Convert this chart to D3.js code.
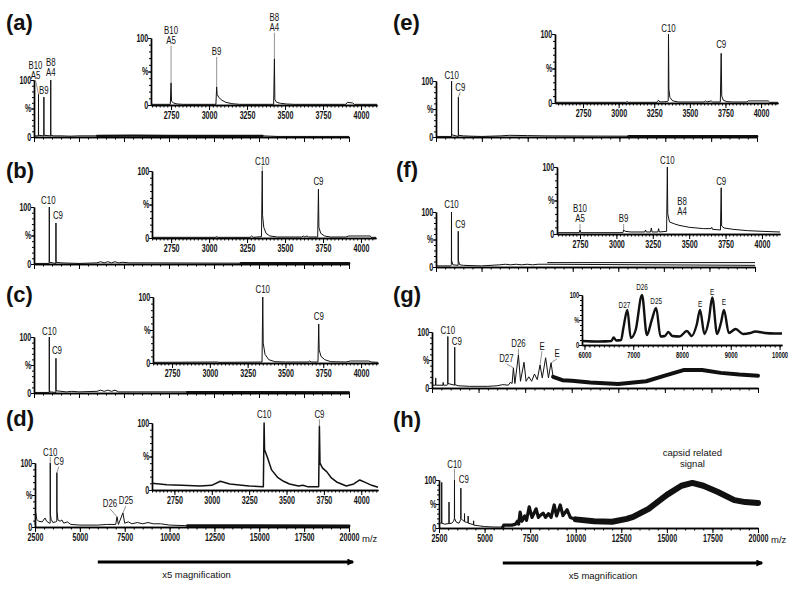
<!DOCTYPE html>
<html>
<head>
<meta charset="utf-8">
<script src="https://cdn.jsdelivr.net/npm/d3@7"></script>
<style>
  body { margin: 0; background: #fff; }
  svg text { font-family: "Liberation Sans", Arial, sans-serif; fill: #111; }
  .tick text { font-size: 10.5px; font-weight: bold; }
  .pk { font-size: 10.5px; }
  .small .tick text, .small .pk { font-size: 8.5px; }
  .tag { font-weight: bold; font-size: 22px; }
  .note { font-size: 9.5px; }
</style>
</head>
<body>
<div id="chart"></div>
<script>
// ---- data: [m/z, relative intensity %] ----
const mainDomain = [2500, 20000];
const yMarks = [0, 50, 100];
const yMarkText = ["0", "%", "100"];
const tags = ["(a)", "(b)", "(c)", "(d)", "(e)", "(f)", "(g)", "(h)"];
const magText = "x5 magnification";
const capsidText = ["capsid related", "signal"];

const mainA = [[2500,2],[2745,2],[2750,75],[2755,3],[3045,2],[3050,70],[3055,3],[3425,2],[3430,100],[3435,3],[3600,2],[4000,2],[4500,1.5],[5000,2],[6000,2],[8000,2.5],[10000,2],[15200,2],[16000,1],[20000,1]];
const insetA = [[2618,1],[2745,1],[2750,33],[2753,6],[2765,3],[2790,1.5],[2830,1],[3045,1],[3050,27],[3053,16],[3065,11],[3085,7],[3110,4],[3150,2],[3200,1],[3425,1],[3430,69],[3433,8],[3445,4],[3470,2.5],[3510,1.5],[3560,1],[3900,1],[3910,4],[3945,3],[3955,1],[4105,1]];
const labelsMainA = [["B10|A5",2750],["B9",3050],["B8|A4",3430]];
const labelsInsetA = [["B10|A5",2750],["B9",3050],["B8|A4",3430]];

const mainB = [[2500,1],[3345,1],[3350,100],[3355,3],[3715,1],[3720,72],[3725,3],[4000,2],[4500,1.5],[5000,1],[6000,2],[6200,4],[6400,2],[6600,4],[6800,2],[7000,4],[7200,2],[7400,3],[7800,2],[8500,2],[14000,1.5],[20000,1.5]];
const insetB = [[2624,1],[3040,1],[3050,2],[3060,1],[3270,1],[3280,3],[3290,1],[3345,2],[3350,100],[3352,34],[3360,16],[3375,7],[3400,3],[3450,1.5],[3610,1.5],[3620,3],[3630,1.5],[3645,3],[3655,1.5],[3715,1.5],[3720,73],[3723,16],[3735,7],[3760,3],[3800,1.5],[3900,1.5],[3920,3],[4060,3],[4070,1],[4099,1]];

const mainC = [[2500,1],[3345,1],[3350,100],[3355,8],[3370,2],[3715,1],[3720,62],[3725,4],[4000,3],[4300,2],[4600,3],[5000,2],[6000,3],[6200,5],[6400,3],[6600,5],[6800,3],[7000,5],[7200,2],[8000,2],[11000,2],[20000,1.5]];
const insetC = [[2624,1],[3050,1.5],[3060,1],[3345,1.5],[3350,100],[3353,30],[3365,13],[3390,5],[3430,2],[3500,1.5],[3650,1.5],[3660,3],[3670,1.5],[3715,1.5],[3720,59],[3723,20],[3735,10],[3760,5],[3800,2],[3900,1.5],[3930,3],[4050,3],[4070,1.5],[4112,1]];
const labelsC109 = [["C10",3350],["C9",3720]];

const mainD = [[2500,4],[2540,22],[2600,12],[2700,9],[2900,8],[3057,14],[3150,9],[3300,6],[3345,6],[3350,100],[3355,20],[3400,12],[3500,7],[3650,8],[3715,9],[3720,85],[3725,25],[3780,11],[3900,9],[4000,11],[4100,6],[4300,8],[4500,4],[5000,3],[6000,3],[6500,4],[7000,4],[7070,16],[7150,4],[7400,22],[7500,6],[7700,8],[7900,5],[8200,7],[8500,5],[8800,7],[9100,5],[9500,5],[10000,3],[11000,2],[20000,1.5]];
const insetD = [[2600,10],[2700,8],[2800,7],[2922,6],[3000,7],[3057,13],[3120,9],[3250,6],[3340,5],[3345,5],[3350,100],[3353,60],[3373,48],[3400,30],[3440,19],[3480,13],[3520,9],[3580,6],[3610,7],[3640,5],[3715,5],[3720,95],[3724,40],[3740,33],[3770,27],[3800,18],[3835,12],[3900,6],[3950,9],[3990,15],[4030,11],[4070,7],[4112,4]];
const labelsMainD = [["C10",3350],["C9",3720],["D26",7070],["D25",7400]];

const mainE = [[2500,1],[3345,1],[3350,100],[3355,4],[3715,1],[3720,71],[3725,3],[4000,2],[4400,1.5],[5000,1],[6000,2],[6500,3],[7500,2.5],[8500,2],[13000,1.5],[20000,1.5]];
const insetE = [[2553,1],[3050,1],[3060,2],[3070,1],[3270,1],[3280,4],[3290,1.5],[3340,2],[3348,3],[3350,100],[3353,20],[3360,8],[3380,3],[3420,1.5],[3600,1.5],[3610,3],[3620,1.5],[3650,3],[3660,1.5],[3714,1.5],[3720,72],[3724,10],[3735,4],[3760,2],[3800,1.5],[3900,1.5],[3910,3],[4050,3],[4060,1],[4119,1]];

const mainF = [[2500,2],[3300,2],[3345,4],[3350,100],[3355,12],[3420,4],[3715,3],[3720,65],[3725,12],[3800,4],[4000,3],[5000,2],[6000,4],[6300,5],[6600,4],[6900,5],[7200,4],[7500,5],[7800,4],[8100,5],[8600,5],[20000,3]];
const mainF2 = [[8600,8],[20000,8]];
const insetF = [[2592,2],[2745,2],[2750,6],[2755,2],[3045,2],[3050,6],[3060,4],[3100,3],[3195,3],[3200,6],[3205,3],[3235,3],[3240,9],[3245,3],[3285,3],[3290,8],[3295,3],[3345,4],[3350,100],[3353,30],[3365,18],[3400,15],[3430,13],[3500,10],[3600,8],[3650,8],[3655,10],[3660,7],[3715,6],[3720,69],[3723,12],[3740,9],[3800,7],[3900,5],[4000,4],[4124,3]];
const labelsInsetF = [["B10|A5",2750],["B9",3050],["C10",3350],["B8|A4",3430],["C9",3720]];

const mainG = [[2500,5],[2690,5],[2700,18],[2710,5],[3090,5],[3100,10],[3110,5],[3300,5],[3345,6],[3350,92],[3355,8],[3715,5],[3720,73],[3725,6],[3900,4],[4500,3],[5500,3],[6000,4],[6300,6],[6600,5],[6700,10],[6800,8],[6870,36],[6950,8],[7140,59],[7250,12],[7440,46],[7550,12],[7700,20],[7850,12],[8000,25],[8150,15],[8300,41],[8420,18],[8600,54],[8750,18],[8890,45],[9000,20],[9500,14],[10000,13],[11000,10],[12500,7],[14000,12],[15000,22],[16000,32],[17000,32],[18000,27],[19000,24],[20000,22]];
const insetG = [[5950,8],[6300,7],[6550,8],[6600,15],[6650,9],[6750,10],[6800,35],[6880,70],[6950,14],[7050,30],[7180,100],[7280,20],[7380,50],[7470,74],[7560,17],[7650,18],[7720,26],[7800,18],[7950,17],[8100,28],[8200,18],[8300,40],[8370,70],[8460,22],[8550,50],[8620,95],[8720,22],[8800,45],[8860,70],[8960,24],[9100,32],[9250,22],[9400,24],[9500,27],[9700,24],[9900,23],[10050,23]];
const labelsMainG = [["C10",3350],["C9",3720],["D27",6870],["D26",7140],["E",8300],["E",8890]];
const labelsInsetG = [["D27",6880],["D26",7180],["D25",7470],["E",8370],["E",8620],["E",8860]];

const mainH = [[2500,12],[2600,10],[2645,10],[2650,95],[2655,10],[2800,8],[3000,9],[3045,9],[3050,54],[3055,9],[3200,10],[3300,14],[3345,20],[3350,100],[3355,20],[3450,12],[3600,10],[3695,18],[3700,83],[3705,20],[3800,16],[3895,14],[3900,30],[3905,13],[4000,12],[4095,11],[4100,25],[4105,10],[4395,7],[4400,15],[4405,6],[4600,5],[5000,3],[5500,2],[6000,2],[6050,6],[6500,6],[6700,8],[6800,14],[6870,8],[6950,33],[7050,14],[7200,25],[7300,16],[7450,44],[7600,22],[7830,40],[7950,22],[8050,26],[8210,31],[8350,22],[8500,30],[8650,22],[8820,48],[8950,25],[9150,48],[9300,26],[9530,38],[9700,22],[10000,18],[11000,14],[12000,13],[12800,19],[13150,23],[14000,40],[15000,69],[15800,88],[16400,94],[17000,88],[17800,75],[18700,58],[19300,54],[20000,52]];
const labelsMainH = [["C10",3350],["C9",3700]];

// ---- layout ----
const svg = d3.select("#chart").append("svg").attr("width", 800).attr("height", 594);
svg.append("defs").append("marker").attr("id", "arr")
  .attr("viewBox", "0 0 10 10").attr("refX", 8).attr("refY", 5)
  .attr("markerUnits", "userSpaceOnUse").attr("markerWidth", 8).attr("markerHeight", 7)
  .attr("orient", "auto")
  .append("path").attr("d", "M0,0L10,5L0,10z").attr("fill", "#000");

const plots = [
  { data: mainA, x: [34, 349], y: [80, 137], thick: [[6000, 15200, 2.2]], labels: labelsMainA, place: [[-3, 14, 1], [0, 2, 0], [0, 3, 0]] },
  { data: insetA, inset: true, dom: [2618, 4105], x: [151, 377], y: [38, 105], labels: labelsInsetA, place: [[0, 37, 1], [0, 30, 1], [0, 26, 1]] },
  { data: mainB, x: [34, 349], y: [207, 264], thick: [[14000, 20000, 2.5]], labels: labelsC109, place: [[-1, 2, 0], [2, 2, 0]] },
  { data: insetB, inset: true, dom: [2624, 4099], x: [152, 376], y: [171, 238], labels: labelsC109, place: [[0, 5, 1], [0, 3, 0]] },
  { data: mainC, x: [34, 349], y: [337, 393], thick: [[11000, 20000, 2]], labels: labelsC109, place: [[0, 1, 0], [1, 3, 0]] },
  { data: insetC, inset: true, dom: [2624, 4112], x: [153, 378], y: [297, 363], labels: labelsC109, place: [[0, 3, 0], [0, 3, 0]] },
  { data: mainD, x: [35, 349], y: [463, 527], xlab: true, thick: [[11000, 20000, 3]], labels: labelsMainD, place: [[0, 6, 1], [2, 6, 1], [-7, 8, 1], [3, 7, 1]], mag: true },
  { data: insetD, inset: true, lw: 1.5, dom: [2600, 4112], x: [152, 378], y: [423, 490], labels: labelsC109, place: [[0, 4, 0], [0, 7, 1]] },
  { data: mainE, x: [436, 757], y: [81, 137], thick: [[13000, 20000, 2.5]], labels: labelsC109, place: [[0, 1, 0], [2, 5, 1]] },
  { data: insetE, inset: true, dom: [2553, 4119], x: [555, 778], y: [34, 103], labels: labelsC109, place: [[0, 1, 0], [0, 4, 0]] },
  { data: mainF, extra: mainF2, x: [436, 755], y: [212, 267], labels: labelsC109, place: [[0, 3, 0], [2, 2, 0]] },
  { data: insetF, inset: true, dom: [2592, 4124], x: [557, 780], y: [167, 234], labels: labelsInsetF, place: [[0, 6, 1], [0, 6, 1], [0, 2, 0], [3, 9, 0], [0, 1, 0]] },
  { data: mainG, x: [432, 758], y: [332, 388], thick: [[9000, 20000, 4]], labels: labelsMainG, place: [[0, 1, 0], [2, 1, 0], [-7, 4, 1], [0, 6, 1], [2, 14, 1], [6, 4, 1]] },
  { data: insetG, inset: true, small: true, curve: true, lw: 2.4, dom: [5950, 10050], steps: [100, 1000], x: [582, 782], y: [295, 345], labels: labelsInsetG, place: [[-3, 1, 0], [0, 4, 0], [0, 3, 0], [0, 2, 0], [0, 1, 0], [0, 4, 0]] },
  { data: mainH, x: [439, 758], y: [480, 528], xlab: true, thick: [[6000, 10000, 3.2], [10000, 20000, 6]], labels: labelsMainH, place: [[0, 11, 1], [3, 4, 0]], mag: true, capsid: 16400 }
];

const tagPos = [[6, 30], [6, 178], [6, 302], [6, 426], [393, 30], [396, 177], [393, 302], [393, 427]];
const squeeze = "scale(0.68,1)";

function plot(c) {
  const dom = c.dom || mainDomain;
  const x = d3.scaleLinear().domain(dom).range(c.x);
  const y = d3.scaleLinear().domain([0, 100]).range([c.y[1], c.y[0]]);
  const g = svg.append("g").attr("class", c.small ? "small" : null);
  const steps = c.steps || (c.inset ? [25, 250] : [500, 2500]);
  const first = Math.ceil(dom[0] / steps[0]) * steps[0];
  const minors = d3.range(first, dom[1] + 1, steps[0]);
  const majors = minors.filter(v => v % steps[1] === 0);
  const showX = c.inset || c.xlab;

  // axes
  g.append("g").attr("transform", `translate(0,${y(0)})`)
    .call(d3.axisBottom(x).tickValues(minors).tickSize(2.5).tickSizeOuter(0).tickFormat(""));
  g.append("g").attr("transform", `translate(0,${y(0)})`)
    .call(d3.axisBottom(x).tickValues(majors).tickSize(5).tickSizeOuter(0).tickPadding(2)
      .tickFormat(showX ? d3.format("d") : ""));
  g.append("g").attr("transform", `translate(${c.x[0]},0)`)
    .call(d3.axisLeft(y).tickValues(d3.range(0, 101, 10)).tickSize(2).tickSizeOuter(0).tickFormat(""));
  g.append("g").attr("transform", `translate(${c.x[0]},0)`)
    .call(d3.axisLeft(y).tickValues(yMarks).tickSize(3).tickSizeOuter(0).tickPadding(1)
      .tickFormat((d, i) => yMarkText[i]));
  g.selectAll(".domain").attr("stroke-width", 1.4);
  g.selectAll(".tick text").attr("transform", squeeze);

  // spectrum
  const line = d3.line().x(d => x(d[0])).y(d => y(d[1]));
  if (c.curve) line.curve(d3.curveMonotoneX);
  const stroke = p => p.attr("fill", "none").attr("stroke", "#111").attr("stroke-linejoin", "round");
  g.append("path").datum(c.data).attr("d", line).call(stroke).attr("stroke-width", c.lw || 1);
  if (c.extra) g.append("path").datum(c.extra).attr("d", line).call(stroke).attr("stroke-width", 1);
  (c.thick || []).forEach(([a, b, w]) => {
    g.append("path").datum(c.data.filter(d => d[0] >= a && d[0] <= b))
      .attr("d", line).call(stroke).attr("stroke-linecap", "round").attr("stroke-width", w);
  });

  // peak labels
  const lh = c.small ? 8 : 10;
  (c.labels || []).forEach(([txt, mz], i) => {
    const [dx, lift, lead] = c.place[i];
    const top = d3.max(c.data.filter(d => Math.abs(d[0] - mz) <= 6), d => d[1]);
    const px = x(mz), py = y(top), by = py - lift;
    if (lead) g.append("line").attr("x1", px).attr("y1", py).attr("x2", px + dx).attr("y2", by)
      .attr("stroke", "#777").attr("stroke-width", 0.8);
    const rows = txt.split("|");
    const t = g.append("g").attr("transform", `translate(${px + dx},${by})`)
      .append("text").attr("class", "pk").attr("text-anchor", "middle").attr("transform", "scale(0.75,1)");
    rows.forEach((r, k) => t.append("tspan").attr("x", 0)
      .attr("y", -1.5 - (rows.length - 1 - k) * lh).text(r));
  });

  if (!c.inset && c.xlab) {
    g.append("text").attr("class", "note").attr("x", c.x[1] + 13).attr("y", y(0) + 15).text("m/z");
  }
  if (c.mag) {
    const ay = c.y[1] + 35;
    g.append("line").attr("x1", x(6000)).attr("x2", x(20000) + 4).attr("y1", ay).attr("y2", ay)
      .attr("stroke", "#000").attr("stroke-width", 3).attr("marker-end", "url(#arr)");
    g.append("text").attr("class", "note").attr("text-anchor", "middle")
      .attr("x", x(11500)).attr("y", ay + 16).text(magText);
  }
  if (c.capsid) {
    const t = g.append("text").attr("class", "note").attr("text-anchor", "middle");
    capsidText.forEach((r, k) => t.append("tspan").attr("x", x(c.capsid)).attr("y", c.y[0] - 24 + k * 11).text(r));
  }
}

plots.forEach(plot);

svg.selectAll("text.tag").data(tags).enter().append("text")
  .attr("class", "tag").attr("x", (d, i) => tagPos[i][0]).attr("y", (d, i) => tagPos[i][1]).text(d => d);
</script>
</body>
</html>
